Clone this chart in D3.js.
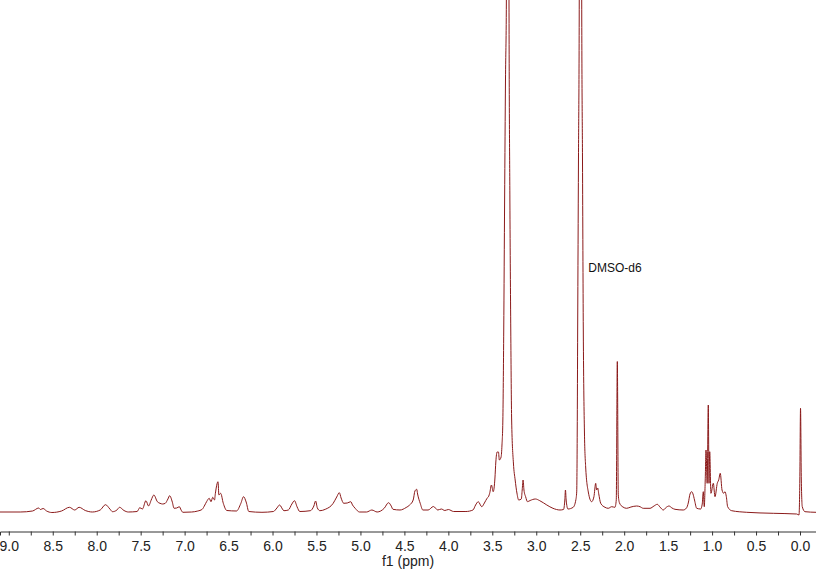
<!DOCTYPE html>
<html>
<head>
<meta charset="utf-8">
<script src="https://cdn.jsdelivr.net/npm/d3@7"></script>
<style>
  html, body { margin: 0; padding: 0; background: #fff; }
  svg { display: block; font-family: "Liberation Sans", Arial, sans-serif; }
</style>
</head>
<body>
<svg id="chart" width="816" height="569"></svg>
<script>
// Chemical shift (ppm) of traced spectrum points
const shiftPpm = [
  9.10, 8.87, 8.73, 8.66, 8.64, 8.61, 8.57, 8.51, 8.40, 8.31, 8.25, 8.20, 8.13, 8.05,
  7.96, 7.90, 7.85, 7.82, 7.77, 7.74, 7.69, 7.64, 7.54, 7.51, 7.48, 7.44, 7.41, 7.38,
  7.35, 7.31, 7.28, 7.25, 7.22, 7.19, 7.17, 7.14, 7.12, 7.09, 7.06, 7.04, 7.02, 6.92,
  6.85, 6.80, 6.77, 6.75, 6.72, 6.70, 6.68, 6.66, 6.65, 6.62, 6.61, 6.59, 6.56, 6.52,
  6.41, 6.36, 6.33, 6.30, 6.27, 6.12, 5.99, 5.95, 5.92, 5.87, 5.82, 5.78, 5.75, 5.72,
  5.69, 5.57, 5.53, 5.51, 5.49, 5.46, 5.40, 5.31, 5.27, 5.24, 5.22, 5.19, 5.15, 5.11,
  5.09, 5.06, 5.01, 4.93, 4.87, 4.81, 4.73, 4.68, 4.65, 4.63, 4.55, 4.48, 4.44, 4.40,
  4.38, 4.36, 4.35, 4.32, 4.29, 4.23, 4.17, 4.12, 4.08, 4.04, 4.00, 3.94, 3.80, 3.72,
  3.69, 3.66, 3.62, 3.59, 3.56, 3.54, 3.53, 3.51, 3.49, 3.47, 3.46, 3.445, 3.43, 3.42,
  3.40, 3.39, 3.38, 3.37, 3.36, 3.35, 3.34, 3.32, 3.31, 3.30, 3.29, 3.28, 3.26, 3.24,
  3.22, 3.20, 3.17, 3.16, 3.15, 3.14, 3.12, 3.10, 3.07, 3.01, 2.96, 2.88, 2.81, 2.73,
  2.69, 2.675, 2.668, 2.66, 2.64, 2.58, 2.55, 2.540, 2.534, 2.529, 2.520, 2.511, 2.497,
  2.483, 2.474, 2.465, 2.452, 2.438, 2.408, 2.370, 2.344, 2.324, 2.313, 2.301, 2.289,
  2.267, 2.218, 2.181, 2.142, 2.105, 2.090, 2.078, 2.067, 2.053, 2.014, 1.972, 1.923,
  1.858, 1.820, 1.783, 1.706, 1.661, 1.623, 1.593, 1.555, 1.524, 1.490, 1.456, 1.422,
  1.328, 1.291, 1.271, 1.251, 1.232, 1.217, 1.200, 1.175, 1.130, 1.112, 1.100, 1.089,
  1.078, 1.069, 1.056, 1.043, 1.035, 1.027, 1.013, 0.986, 0.967, 0.941, 0.925, 0.907,
  0.887, 0.868, 0.853, 0.838, 0.823, 0.777, 0.606, 0.304, 0.038, 0.011, 0.002, -0.006,
  -0.015, -0.026, -0.057, -0.182
];
// Intensity (arbitrary units) at each point above
const intensity = [
  0, 0, 1, 4, 2.5, 3.5, 1, -0.5, 1, 4.7, 2, 4.7, 1.5, 0,
  2, 7.3, 3, 0.3, 2, 4.7, 1.5, 0, 0.5, 4.3, 3, 11.3, 6, 12,
  17, 10.3, 8.7, 8, 8.7, 13, 16.3, 10, 3.7, 4, 5.3, 2, -0.3, 0,
  1, 2.7, 7, 10.3, 13.7, 10.3, 14.7, 12, 18.7, 30.3, 17, 18.7, 8.7, 1.5,
  1, 8.7, 15.3, 10, 0.5, -0.3, 0.5, 4, 7, 1.3, 2, 8, 11.3, 5,
  0.5, 1.3, 6, 11, 4, 1.3, 2.7, 8.7, 15, 19.3, 14, 8.7, 9, 10.3,
  7, 3.7, 0, 0, 2, 0, 3.7, 9.3, 6, 2.7, 2, 4.5, 7, 12,
  21, 22.7, 18, 8.7, 2, 2, 5.5, 2, 3, 1.5, 2.5, 0.5, 0.5, 2,
  7, 10.3, 5.3, 9, 13.7, 16, 18.7, 27, 20.3, 34, 50, 60, 60, 52,
  55, 67, 92, 182, 312, 432, 512, 2600, 512, 312, 182, 92, 49, 32,
  19, 12, 13, 22, 32, 22, 15, 10.3, 11.5, 13, 11.3, 7, 3.7, 2,
  2.5, 12, 22, 12, 3, 4.7, 12, 20, 80, 182, 350, 512, 2100,
  512, 350, 182, 80, 45, 20, 10.3, 15.3, 28.7, 22, 24, 18,
  8.7, 4.7, 3.7, 5.3, 4.7, 12, 150.5, 17, 9, 5, 3.7, 5,
  6, 5.3, 3.7, 3.7, 6, 7.7, 5, 2, 4.5, 6, 4, 2.7,
  2, 4, 9, 18, 20.3, 18, 12, 3.7, 3, 8, 20.3, 5.3,
  32, 62, 28.7, 107, 28.7, 60.3, 18.7, 28.7, 15.3, 28.7, 32, 38.7,
  22, 18.7, 20.3, 15.3, 5.3, 1.3, -0.3, -1.3, -2, -3, 32, 103.7,
  32, 5.3, 0.3, -0.3
];
// Axis ticks (ppm)
const tickValues = [9.0, 8.75, 8.5, 8.25, 8.0, 7.75, 7.5, 7.25, 7.0, 6.75, 6.5, 6.25, 6.0, 5.75,
  5.5, 5.25, 5.0, 4.75, 4.5, 4.25, 4.0, 3.75, 3.5, 3.25, 3.0, 2.75, 2.5, 2.25, 2.0, 1.75,
  1.5, 1.25, 1.0, 0.75, 0.5, 0.25, 0.0];
const xDomain = [9.10, -0.182];
const axisTitle = "f1 (ppm)";
const peakLabels = [{ text: "DMSO-d6", ppm: 2.50, value: 240 }];

const W = 816, H = 569;
const svg = d3.select("#chart");
const x = d3.scaleLinear().domain(xDomain).range([0, W]);
const y = d3.scaleLinear().domain([0, 512]).range([512, 0]);

svg.append("defs").append("clipPath").attr("id", "plotclip")
  .append("rect").attr("x", 0).attr("y", 0).attr("width", W).attr("height", 525);

const pts = shiftPpm.map((p, i) => [p, intensity[i]]);
const line = d3.line().x(d => x(d[0])).y(d => y(d[1])).curve(d3.curveMonotoneX);
svg.append("path")
  .attr("clip-path", "url(#plotclip)")
  .attr("d", line(pts.slice().reverse()))
  .attr("fill", "none")
  .attr("stroke", "#8b1a1a")
  .attr("stroke-width", 1)
  .attr("stroke-linejoin", "round");

// Peak label
peakLabels.forEach(l => {
  svg.append("text")
    .attr("x", x(l.ppm) + 8)
    .attr("y", y(l.value))
    .attr("font-size", 12)
    .attr("fill", "#111")
    .text(l.text);
});

// Axis
const axis = d3.axisBottom(x)
  .tickValues(tickValues)
  .tickSizeOuter(0)
  .tickSize(4)
  .tickPadding(6)
  .tickFormat(d => (Math.round(d * 100) % 50 === 0) ? d.toFixed(1) : "");
const gA = svg.append("g").attr("transform", "translate(0,531.5)").call(axis);
gA.select(".domain").attr("stroke", "#333");
gA.selectAll(".tick line").attr("stroke", "#333");
gA.selectAll(".tick text").attr("font-size", 14).attr("fill", "#222")
  .attr("font-family", "'Liberation Sans', Arial, sans-serif");

svg.append("text")
  .attr("x", W / 2)
  .attr("y", 566)
  .attr("text-anchor", "middle")
  .attr("font-size", 14)
  .attr("fill", "#222")
  .text(axisTitle);
</script>
</body>
</html>
